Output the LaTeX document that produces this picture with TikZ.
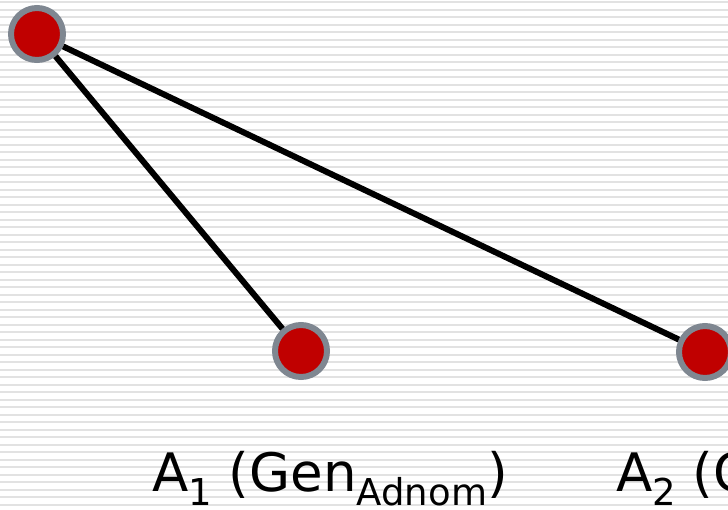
\documentclass[tikz,border=0pt]{standalone}
\usepackage{fontspec}
\setmainfont{DejaVu Sans}
\definecolor{dotred}{HTML}{C00000}
\definecolor{dotrim}{HTML}{7F8791}
\definecolor{stripe}{HTML}{E2E2E2}
\newcommand{\lowsub}[1]{\raisebox{-0.27em}{\fontsize{37}{37}\selectfont #1}}

\begin{document}
\begin{tikzpicture}[x=1pt,y=-1pt,
  dot/.style={circle,fill=dotred,draw=dotrim,line width=6pt,minimum size=52pt,inner sep=0pt},
  branch/.style={line width=6pt,black},
  lbl/.style={anchor=base west,inner sep=0pt,font=\fontsize{53}{60}\selectfont}]
  \clip (0,0) rectangle (728,509);
  % striped background
  \foreach \y in {2.3,9.8,...,509}{\draw[stripe,line width=2pt] (0,\y) -- (728,\y);}
  \node[dot] (root) at (37,34) {};
  \node[dot] (adnom) at (301,351) {};
  \node[dot] (second) at (705,352) {};
  \draw[branch] (root) -- (adnom);
  \draw[branch] (root) -- (second);
  \node[lbl] (adnomlbl) at (152,491) {A\lowsub{1} (Gen\lowsub{Adnom})};
  \node[lbl] (secondlbl) at (616,491) {A\lowsub{2} (G};
\end{tikzpicture}
\end{document}
